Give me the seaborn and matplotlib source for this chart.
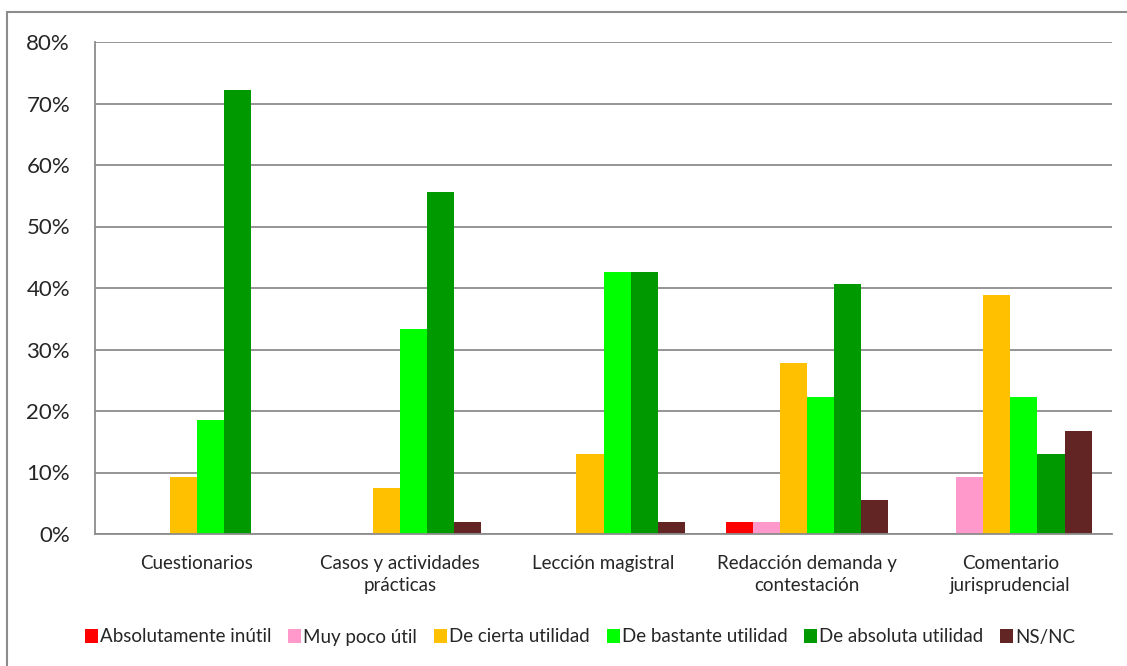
import numpy as np
import pandas as pd
import matplotlib
matplotlib.use('Agg')
import matplotlib.pyplot as plt
import matplotlib.ticker as mticker
from matplotlib.patches import Rectangle, Patch
import seaborn as sns

# data (percent of responses)
categories = ['Cuestionarios', 'Casos y actividades\nprácticas', 'Lección magistral',
              'Redacción demanda y\ncontestación', 'Comentario\njurisprudencial']
series = ['Absolutamente inútil', 'Muy poco útil', 'De cierta utilidad',
          'De bastante utilidad', 'De absoluta utilidad', 'NS/NC']
absolutamente_inutil = [0.0, 0.0, 0.0, 1.9, 0.0]
muy_poco_util = [0.0, 0.0, 0.0, 1.9, 9.3]
de_cierta_utilidad = [9.3, 7.4, 13.0, 27.8, 38.9]
de_bastante_utilidad = [18.5, 33.3, 42.6, 22.2, 22.2]
de_absoluta_utilidad = [72.2, 55.6, 42.6, 40.7, 13.0]
ns_nc = [0.0, 1.9, 1.9, 5.6, 16.7]
colors = ['#FF0000', '#FF99CC', '#FFC000', '#00FF00', '#009900', '#632523']

values = [absolutamente_inutil, muy_poco_util, de_cierta_utilidad,
          de_bastante_utilidad, de_absoluta_utilidad, ns_nc]
rows = []
for s, vals in zip(series, values):
    for c, v in zip(categories, vals):
        rows.append({'Categoria': c, 'Respuesta': s, 'Pct': v})
df = pd.DataFrame(rows)

sns.set_style('white')
plt.rcParams['font.family'] = ['Lato', 'DejaVu Sans']
grid_col = '#8C8C8C'

fig = plt.figure(figsize=[11.27, 6.66], dpi=100)
ax = fig.add_axes([95 / 1127, 1 - 534 / 666, 1017 / 1127, 492 / 666])

sns.barplot(data=df, x='Categoria', y='Pct', hue='Respuesta', order=categories,
            hue_order=series, palette=colors, saturation=1, width=0.8, gap=0,
            linewidth=0, ax=ax, legend=False)

ax.set_ylim(0, 80)
ax.set_xlim(-0.5, len(categories) - 0.5)
ax.yaxis.set_major_locator(mticker.MultipleLocator(10))
ax.yaxis.set_major_formatter(mticker.FuncFormatter(lambda v, p: '{0:.0f}%'.format(v)))
ax.yaxis.grid(True, color=grid_col, linewidth=1.3)
ax.set_axisbelow(True)
ax.set(xlabel='', ylabel='')

for side in ['top', 'right']:
    ax.spines[side].set_visible(False)
for side in ['left', 'bottom']:
    ax.spines[side].set_color(grid_col)
    ax.spines[side].set_linewidth(1.3)

# category labels centred, ticks on category boundaries
ax.set_xticks(np.arange(len(categories)))
ax.set_xticklabels(categories, fontsize=13.5, linespacing=1.4)
ax.tick_params(axis='x', length=0, pad=15)
ax.set_xticks(np.arange(len(categories) + 1) - 0.5, minor=True)
ax.tick_params(axis='x', which='minor', length=6, width=1.3, color=grid_col, direction='out')
ax.tick_params(axis='y', length=6, width=1.3, color=grid_col, direction='out',
               labelsize=16, pad=12)

handles = [Patch(facecolor=c, edgecolor='none', label=s) for c, s in zip(colors, series)]
fig.legend(handles=handles, loc='center', bbox_to_anchor=(580 / 1127, 1 - 637 / 666),
           ncol=6, frameon=False, fontsize=13.5, handlelength=0.7, handleheight=0.7,
           handletextpad=0.1, columnspacing=0.9)

# outer chart border
fig.patches.append(Rectangle((7 / 1127, -0.1), 1.2, (1 - 12 / 666) + 0.1,
                             transform=fig.transFigure, fill=False,
                             edgecolor=grid_col, linewidth=1.5))

fig.savefig('out.png', dpi=100)
